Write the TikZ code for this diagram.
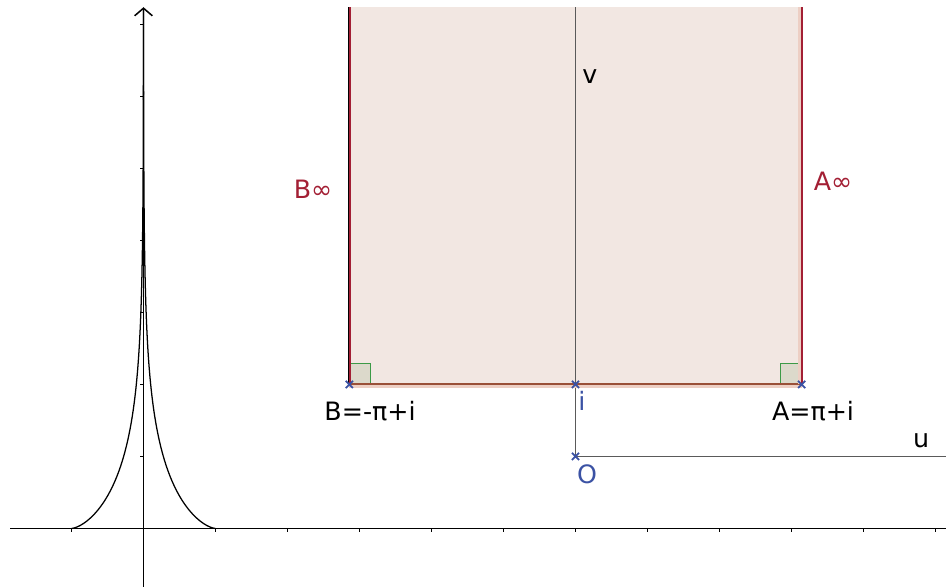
\documentclass[tikz,border=0pt]{standalone}
\usepackage{fontspec}
\setmainfont{DejaVu Sans}
\usepackage{xcolor}
\definecolor{strip}{RGB}{242,231,226}
\definecolor{edgered}{HTML}{A31F34}
\definecolor{edgebrown}{HTML}{9A5038}
\definecolor{halo}{HTML}{EDCFC4}
\definecolor{pointblue}{HTML}{3B52A4}
\definecolor{anglegreen}{HTML}{3C9A46}
\definecolor{anglefill}{HTML}{DCD9CB}
\definecolor{axisgray}{HTML}{5A5A5A}
\usepackage{tikz}
\usetikzlibrary{arrows.meta, positioning, calc}

\begin{document}
\begin{tikzpicture}[>={Straight Barb[length=3pt,width=7pt]},
    ptmark/.style={pointblue, line width=0.7pt},
    tag/.style={font=\fontsize{10}{12}\selectfont, inner sep=0pt},
    rightangle/.style={draw=anglegreen, fill=anglefill, line width=0.5pt}]

  \useasboundingbox (-1.993,-0.8125) rectangle (11.146,7.340);

  % points of the strip
  \coordinate (O) at (6,1);
  \coordinate (I) at (6,2);
  \coordinate (B) at ({6-pi},2);
  \coordinate (A) at ({6+pi},2);
  \coordinate (Btop) at ({6-pi},7.243);
  \coordinate (Atop) at ({6+pi},7.243);
  \coordinate (Vtop) at (6,7.243);
  \coordinate (Uend) at (11.146,1);

  % axes and ticks
  \draw[line width=0.6pt] (-1.854,0) -- (11.146,0);
  \draw[line width=0.6pt, ->] (0,-0.8125) -- (0,7.24);
  \foreach \k in {-1,1,2,...,11}
    \draw[line width=0.5pt] (\k,0) -- (\k,-0.055);
  \foreach \k in {1,...,7}
    \draw[line width=0.5pt] (0,\k) -- (-0.055,\k);

  % tractrix
  \draw[line width=0.5pt] plot[domain=0:8.2, samples=160, variable=\t]
    ({1/cosh(\t)}, {\t-tanh(\t)});
  \draw[line width=0.5pt] plot[domain=0:8.2, samples=160, variable=\t]
    ({-1/cosh(\t)}, {\t-tanh(\t)});

  % the half strip
  \fill[strip] (B) rectangle (Atop);
  \draw[axisgray, line width=0.6pt] (O) -- (Vtop);
  \draw[axisgray, line width=0.6pt] (O) -- (Uend);
  \draw[rightangle] (B) rectangle ++(0.29,0.29);
  \draw[rightangle] (A) rectangle ++(-0.29,0.29);
  \draw[halo, line width=1.8pt] ([yshift=-0.5pt]B) -- ([yshift=-0.5pt]A);
  \draw[edgebrown, line width=0.8pt] (B) -- (A);
  \draw[edgered, line width=1.2pt] (B) -- (Btop);
  \draw[black, line width=0.5pt] ([xshift=-0.3pt]B) -- ([xshift=-0.3pt]Btop);
  \draw[halo, line width=1.6pt] ([xshift=-0.6pt]A) -- ([xshift=-0.6pt]Atop);
  \draw[edgered, line width=0.8pt] (A) -- (Atop);

  % point marks
  \foreach \p in {O,I,A,B}
    \draw[ptmark] ($(\p)+(-0.05,-0.05)$) -- ($(\p)+(0.05,0.05)$)
                  ($(\p)+(-0.05,0.05)$) -- ($(\p)+(0.05,-0.05)$);

  % labels
  \node[tag] (vlabel) at (6.201,6.271) {v};
  \node[tag] (ulabel) at (10.799,1.215) {u};
  \node[tag, text=edgered] (binf) at (2.354,4.715) {B∞};
  \node[tag, text=edgered] (ainf) at (9.576,4.826) {A∞};
  \node[tag] (blabel) at ($(B)+(0.288,-0.368)$) {B=-π+i};
  \node[tag] (alabel) at ($(A)+(0.157,-0.368)$) {A=π+i};
  \node[tag, text=pointblue] (ilabel) at ($(I)+(0.09,-0.229)$) {i};
  \node[tag, text=pointblue] (olabel) at ($(O)+(0.16,-0.243)$) {O};

\end{tikzpicture}
\end{document}
